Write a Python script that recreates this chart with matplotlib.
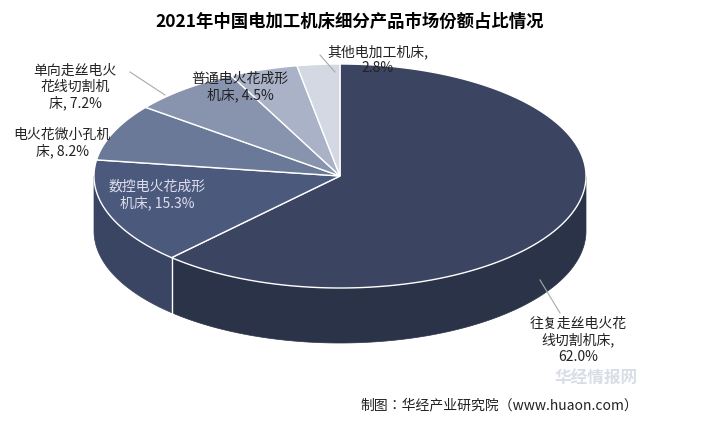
import numpy as np
import matplotlib
matplotlib.use("Agg")
import matplotlib.pyplot as plt
from matplotlib.patches import Polygon

FAM = ['Noto Sans CJK SC', 'Noto Sans CJK JP', 'Noto Sans CJK TC', 'DejaVu Sans']
plt.rcParams['font.family'] = FAM

categories = ["往复走丝电火花线切割机床", "数控电火花成形机床", "电火花微小孔机床", "单向走丝电火花线切割机床", "普通电火花成形机床", "其他电加工机床"]
values = [62.0, 15.3, 8.2, 7.2, 4.5, 2.8]
top_colors = ["#3b4562", "#4b5a7c", "#6b7999", "#8893ae", "#a9b2c6", "#d3d8e2"]
side_colors = ["#2b3349", "#394563", "#56627f", "#6f7a95", "#8d96ab", "#b3b9c6"]

fig = plt.figure(figsize=(7.01, 4.29), dpi=100)
ax = fig.add_axes([0, 0, 1, 1])
ax.set_xlim(0, 701); ax.set_ylim(429, 0); ax.axis('off')

cx, cy, rx, ry, depth = 340, 176, 246, 112, 55
def pt(t, dy=0):
    return (cx + rx*np.cos(t), cy - ry*np.sin(t) + dy)

fr = np.array(values)/sum(values)
starts = np.pi/2 - 2*np.pi*np.concatenate([[0], np.cumsum(fr)[:-1]])
ends = starts - 2*np.pi*fr

for s, e, c in zip(starts, ends, side_colors):
    ts = np.linspace(s, e, 300)
    ts = ts[np.sin(ts) <= 0]
    if len(ts) < 2: continue
    top = [pt(t) for t in ts]
    bot = [pt(t, depth) for t in ts[::-1]]
    ax.add_patch(Polygon(top+bot, closed=True, fc=c, ec=c, lw=0.5, zorder=1))
for s, e, c in zip(starts, ends, top_colors):
    ts = np.linspace(s, e, 200)
    ax.add_patch(Polygon([(cx, cy)] + [pt(t) for t in ts], closed=True, fc=c, ec='white', lw=1, zorder=2))
for s in starts:
    if np.sin(s) < 0:
        x0, y0 = pt(s)
        ax.plot([x0, x0], [y0, y0+depth], color='white', lw=1, zorder=3)

ax.text(350, 22, "2021年中国电加工机床细分产品市场份额占比情况", ha='center', va='center', fontsize=12.5, fontweight='bold')

fs = 10
lab = [(f"往复走丝电火花\n线切割机床,\n{values[0]:.1f}%", 578, 340, '#222'),
       (f"数控电火花成形\n机床, {values[1]}%", 157, 195, '#dde'),
       (f"电火花微小孔机\n床, {values[2]}%", 62, 143, '#222'),
       (f"单向走丝电火\n花线切割机\n床, {values[3]}%", 75, 87, '#222'),
       (f"普通电火花成形\n机床, {values[4]}%", 240, 87, '#222'),
       (f"其他电加工机床,\n{values[5]}%", 378, 60, '#222')]
for t, x, y, c in lab:
    ax.text(x, y, t, ha='center', va='center', fontsize=fs, color=c, linespacing=1.2, zorder=5)
ax.plot([130, 165], [72, 95], color='#aaa', lw=0.8)
ax.plot([320, 335], [55, 72], color='#aaa', lw=0.8)
ax.plot([540, 560], [280, 313], color='#aaa', lw=0.8, zorder=4)

ax.text(555, 388, "华经情报网", fontsize=12, color='#c8d0dc', fontweight='bold', alpha=0.7, zorder=0, va='bottom')
ax.text(360, 405, "制图：华经产业研究院（www.huaon.com）", ha='left', va='center', fontsize=10, color='#222')
fig.savefig("out.png", dpi=100)
